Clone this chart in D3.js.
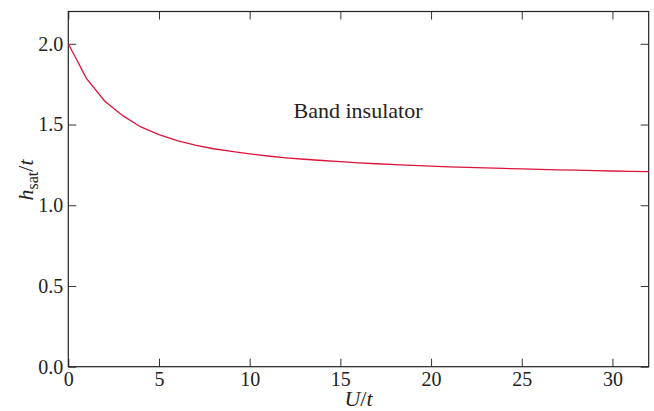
<!DOCTYPE html>
<html>
<head>
<meta charset="utf-8">
<script src="https://cdn.jsdelivr.net/npm/d3@7"></script>
</head>
<body style="margin:0; font-family: 'Liberation Serif', Tinos, 'Times New Roman';">
<div id="canvas"></div>
<script>
"use strict"

/* data: h_sat/t against U/t */
let uValues = [0, 1, 2, 3, 4, 5, 6, 7, 8, 9, 10, 11, 12, 13, 14, 15, 16,
    17, 18, 19, 20, 21, 22, 23, 24, 25, 26, 27, 28, 29, 30, 31, 32];
let hSat = [2.0, 1.786, 1.646, 1.555, 1.485, 1.437, 1.40, 1.372, 1.35, 1.333,
    1.318, 1.305, 1.294, 1.285, 1.277, 1.270, 1.263, 1.257, 1.252, 1.247,
    1.242, 1.238, 1.234, 1.231, 1.228, 1.225, 1.222, 1.219, 1.217, 1.214,
    1.212, 1.210, 1.208];
let xTicks = [0, 5, 10, 15, 20, 25, 30];
let yTicks = [0.0, 0.5, 1.0, 1.5, 2.0];
let annotation = "Band insulator";

let width = 654, height = 411;
let plotLeft = 68.3, plotRight = 648.7, plotTop = 11.5, plotBottom = 366.7;
let serif = "'Liberation Serif', Tinos, 'Times New Roman'";

let drawing = d3.select("#canvas")
    .append("svg")
    .attr("width", width)
    .attr("height", height)
    .style("display", "block")
    .style("font-family", serif);

let x = d3.scaleLinear().domain([0, 32]).range([plotLeft, plotRight]);
let y = d3.scaleLinear().domain([0, 2.2]).range([plotBottom, plotTop]);

/* axes, ticks point inward on all four sides */
function styleAxis(g, showLabels) {
    g.attr("font-family", null).attr("font-size", null);
    g.select(".domain").remove();
    g.selectAll(".tick line").attr("stroke", "#333").attr("stroke-width", 1);
    g.selectAll(".tick text")
        .attr("fill", "#222")
        .style("font-family", serif)
        .style("font-size", "20px");
    if (!showLabels) g.selectAll(".tick text").remove();
}

drawing.append("g")
    .attr("transform", `translate(0,${plotBottom})`)
    .call(d3.axisBottom(x).tickValues(xTicks).tickSize(-8).tickPadding(5).tickFormat(d3.format("d")))
    .call(g => styleAxis(g, true));

drawing.append("g")
    .attr("transform", `translate(0,${plotTop})`)
    .call(d3.axisTop(x).tickValues(xTicks).tickSize(-8))
    .call(g => styleAxis(g, false));

drawing.append("g")
    .attr("transform", `translate(${plotLeft},0)`)
    .call(d3.axisLeft(y).tickValues(yTicks).tickSize(-8).tickPadding(5).tickFormat(d3.format(".1f")))
    .call(g => styleAxis(g, true));

drawing.append("g")
    .attr("transform", `translate(${plotRight},0)`)
    .call(d3.axisRight(y).tickValues(yTicks).tickSize(-8))
    .call(g => styleAxis(g, false));

/* frame */
drawing.append("rect")
    .attr("x", plotLeft)
    .attr("y", plotTop)
    .attr("width", plotRight - plotLeft)
    .attr("height", plotBottom - plotTop)
    .attr("fill", "none")
    .attr("stroke", "#222")
    .attr("stroke-width", 1.2);

/* the curve */
let line = d3.line()
    .x((d, i) => x(uValues[i]))
    .y(d => y(d));

drawing.append("path")
    .datum(hSat)
    .attr("d", line)
    .attr("fill", "none")
    .attr("stroke", "#dc143c")
    .attr("stroke-width", 1.3);

/* labels */
drawing.append("text")
    .attr("x", 358)
    .attr("y", 118)
    .attr("text-anchor", "middle")
    .attr("fill", "#222")
    .style("font-family", serif)
    .style("font-size", "22px")
    .text(annotation);

let xLabel = drawing.append("text")
    .attr("x", (plotLeft + plotRight) / 2)
    .attr("y", 406)
    .attr("text-anchor", "middle")
    .attr("fill", "#222")
    .style("font-family", serif)
    .style("font-size", "22px");
xLabel.append("tspan").style("font-style", "italic").text("U");
xLabel.append("tspan").text("/");
xLabel.append("tspan").style("font-style", "italic").text("t");

let yLabel = drawing.append("text")
    .attr("transform", "translate(33,180) rotate(-90)")
    .attr("text-anchor", "middle")
    .attr("fill", "#222")
    .style("font-family", serif)
    .style("font-size", "22px");
yLabel.append("tspan").style("font-style", "italic").text("h");
yLabel.append("tspan").attr("dy", 5).style("font-size", "16px").text("sat");
yLabel.append("tspan").attr("dy", -5).text("/");
yLabel.append("tspan").style("font-style", "italic").text("t");
</script>
</body>
</html>
